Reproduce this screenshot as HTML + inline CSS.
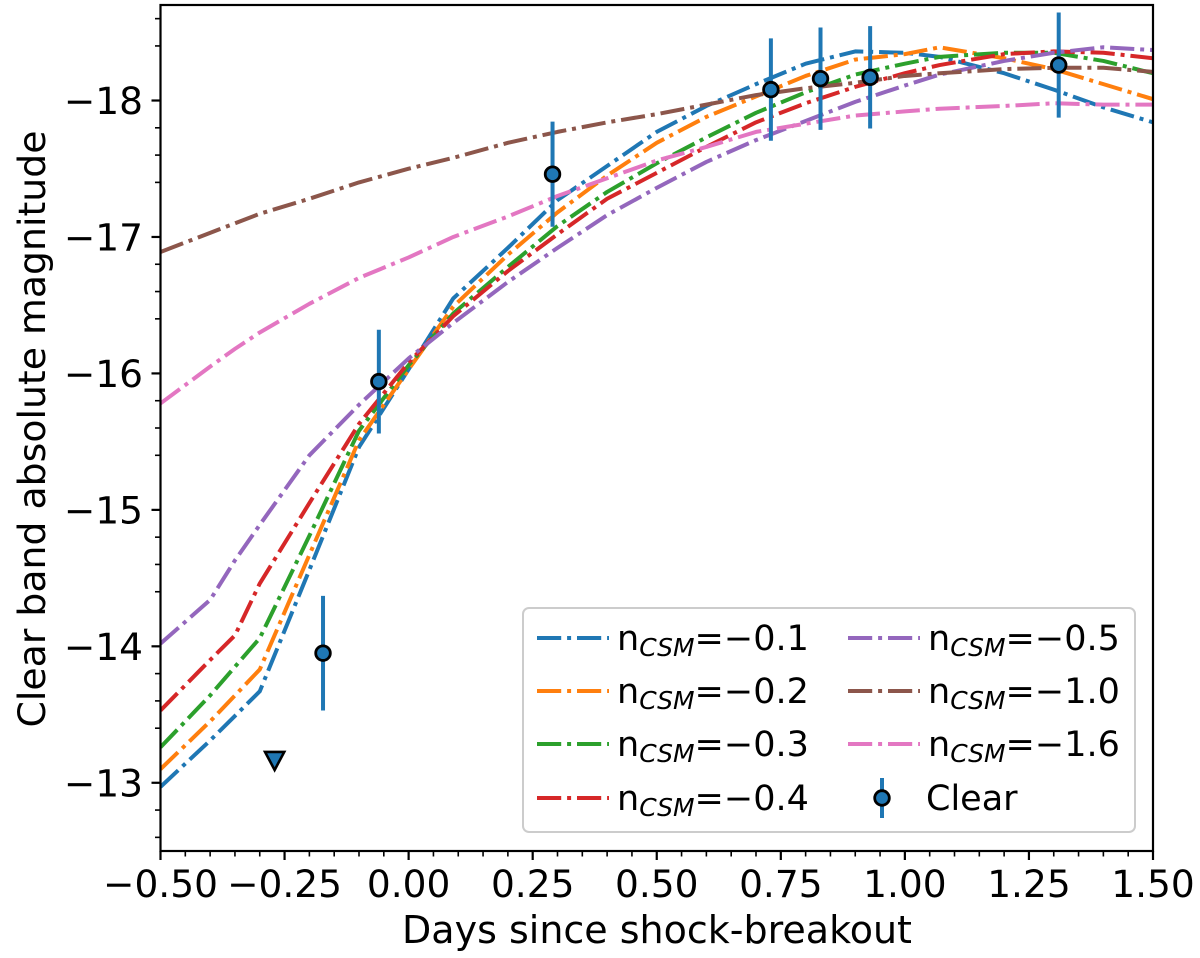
<!DOCTYPE html>
<html lang="en">
<head>
<meta charset="utf-8">
<title>Clear band absolute magnitude vs days since shock-breakout</title>
<style>
html,body{margin:0;padding:0;background:#fff;width:1200px;height:958px;overflow:hidden}
svg{display:block}
text{font-family:"DejaVu Sans","Liberation Sans",sans-serif;fill:#000}
</style>
</head>
<body>
<svg id="chart" xmlns="http://www.w3.org/2000/svg" width="1200" height="958" viewBox="0 0 1200 958">
  <defs><clipPath id="plot-clip"><rect x="160.5" y="5" width="992.5" height="846"/></clipPath></defs>
  <rect x="160.5" y="5" width="992.5" height="846" fill="#fff"/>
  <g id="series" clip-path="url(#plot-clip)"></g>
  <g id="observations" clip-path="url(#plot-clip)"></g>
  <rect x="160.5" y="5" width="992.5" height="846" fill="none" stroke="#000" stroke-width="2.2"/>
  <g id="ticks"></g>
  <text x="657" y="943" font-size="38" text-anchor="middle">Days since shock-breakout</text>
  <text transform="translate(45,429) rotate(-90)" font-size="37.8" text-anchor="middle">Clear band absolute magnitude</text>
  <g id="legend">
    <rect x="523" y="608" width="612" height="224" rx="6" ry="6" fill="#fff" fill-opacity="0.8" stroke="#ccc" stroke-width="2"/>
  </g>
</svg>
<script>
const days = [-0.5,-0.4,-0.35,-0.3,-0.2,-0.1,0,0.09,0.2,0.3,0.4,0.5,0.6,0.7,0.8,0.9,1.0,1.07,1.2,1.3,1.4,1.5];
const seriesLabels = ['−0.1','−0.2','−0.3','−0.4','−0.5','−1.0','−1.6'];
const seriesColors = ['#1f77b4','#ff7f0e','#2ca02c','#d62728','#9467bd','#8c564b','#e377c2'];
const magN01 = [-12.97,-13.31,-13.49,-13.67,-14.56,-15.46,-16.03,-16.55,-16.92,-17.27,-17.52,-17.77,-17.96,-18.12,-18.27,-18.36,-18.35,-18.32,-18.20,-18.08,-17.95,-17.84];
const magN02 = [-13.10,-13.45,-13.64,-13.83,-14.67,-15.51,-16.03,-16.49,-16.87,-17.18,-17.45,-17.69,-17.88,-18.03,-18.18,-18.30,-18.34,-18.39,-18.31,-18.23,-18.12,-18.01];
const magN03 = [-13.26,-13.64,-13.85,-14.06,-14.81,-15.58,-16.06,-16.44,-16.78,-17.08,-17.33,-17.54,-17.73,-17.91,-18.06,-18.19,-18.27,-18.32,-18.35,-18.35,-18.29,-18.20];
const magN04 = [-13.53,-13.90,-14.08,-14.46,-15.05,-15.63,-16.08,-16.42,-16.75,-17.02,-17.28,-17.47,-17.66,-17.84,-17.98,-18.10,-18.20,-18.26,-18.34,-18.36,-18.35,-18.31];
const magN05 = [-14.02,-14.34,-14.63,-14.89,-15.40,-15.77,-16.11,-16.37,-16.67,-16.92,-17.16,-17.36,-17.55,-17.71,-17.85,-17.99,-18.11,-18.19,-18.29,-18.35,-18.39,-18.37];
const magN10 = [-16.89,-17.03,-17.10,-17.17,-17.28,-17.40,-17.50,-17.58,-17.69,-17.77,-17.84,-17.90,-17.97,-18.04,-18.09,-18.13,-18.18,-18.20,-18.23,-18.24,-18.24,-18.21];
const magN16 = [-15.78,-16.05,-16.18,-16.30,-16.51,-16.70,-16.85,-17.00,-17.15,-17.30,-17.43,-17.56,-17.66,-17.77,-17.83,-17.89,-17.92,-17.94,-17.96,-17.98,-17.97,-17.97];
const seriesMags = [magN01,magN02,magN03,magN04,magN05,magN10,magN16];
const obsDays = [-0.1725,-0.06,0.29,0.73,0.83,0.93,1.31];
const obsMags = [-13.95,-15.94,-17.46,-18.08,-18.16,-18.17,-18.26];
const obsErrs = [0.42,0.38,0.385,0.375,0.375,0.375,0.385];
const limitDays = [-0.27];
const limitMags = [-13.16];
const xTickValues = [-0.5,-0.25,0,0.25,0.5,0.75,1,1.25,1.5];
const xTickLabels = ['−0.50','−0.25','0.00','0.25','0.50','0.75','1.00','1.25','1.50'];
const yTickValues = [-18,-17,-16,-15,-14,-13];
const yTickLabels = ['−18','−17','−16','−15','−14','−13'];

const NS = 'http://www.w3.org/2000/svg';
const X_MIN = -0.5, X_MAX = 1.5, Y_TOP = -18.7, Y_BOTTOM = -12.5;
const L = 160.5, R = 1153, T = 5, B = 851;
function xScale(v){ return L + (v - X_MIN) / (X_MAX - X_MIN) * (R - L); }
function yScale(v){ return T + (v - Y_TOP) / (Y_BOTTOM - Y_TOP) * (B - T); }
function make(tag, attrs, parent){
  const el = document.createElementNS(NS, tag);
  for (const k in attrs) el.setAttribute(k, attrs[k]);
  parent.appendChild(el);
  return el;
}
const DASH = '24.2 5.9 4 5.9';
const LW = 4;

// model curves
const seriesGroup = document.getElementById('series');
seriesMags.forEach(function(mags, i){
  const d = mags.map(function(m, j){ return (j ? 'L' : 'M') + xScale(days[j]).toFixed(2) + ' ' + yScale(m).toFixed(2); }).join(' ');
  const line = make('path', {d: d, fill: 'none', stroke: seriesColors[i], 'stroke-width': LW, 'stroke-dasharray': DASH, 'stroke-linejoin': 'round'}, seriesGroup);
  
  
});

// observations
const obsGroup = document.getElementById('observations');
obsDays.forEach(function(x, i){
  const cx = xScale(x), cy = yScale(obsMags[i]);
  const bar = make('line', {x1: cx, x2: cx, y1: yScale(obsMags[i] - obsErrs[i]), y2: yScale(obsMags[i] + obsErrs[i]), stroke: '#1f77b4', 'stroke-width': LW}, obsGroup);
  
  
  const dot = make('circle', {cx: cx, cy: cy, r: 7.3, fill: '#1f77b4', stroke: '#000', 'stroke-width': 2.8}, obsGroup);
  
  
});
limitDays.forEach(function(x, i){
  const cx = xScale(x), cy = yScale(limitMags[i]);
  const tri = make('polygon', {points: (cx-9.6)+','+(cy-9)+' '+(cx+9.6)+','+(cy-9)+' '+cx+','+(cy+9), fill: '#1f77b4', stroke: '#000', 'stroke-width': 2.6, 'stroke-linejoin': 'miter'}, obsGroup);
  
  
});

// ticks
const tickGroup = document.getElementById('ticks');
function xTick(v, len, w){
  const t = make('line', {x1: xScale(v), x2: xScale(v), y1: B, y2: B + len, stroke: '#000', 'stroke-width': w}, tickGroup);
  
  
}
function yTick(v, len, w){
  const t = make('line', {x1: L - len, x2: L, y1: yScale(v), y2: yScale(v), stroke: '#000', 'stroke-width': w}, tickGroup);
  
  
}
for (let k = 0; k <= 40; k++){ if (k % 5) xTick(X_MIN + k * 0.05, 5.5, 1.6); }
for (let k = 0; k <= 30; k++){ if (k % 5 !== 2) yTick(-18.6 + k * 0.2, 5.5, 1.6); }
xTickValues.forEach(function(v, i){
  xTick(v, 9, 2.2);
  const label = make('text', {x: xScale(v), y: 897, 'font-size': 37.5, 'text-anchor': 'middle'}, tickGroup);
  label.textContent = xTickLabels[i];
  
  
});
yTickValues.forEach(function(v, i){
  yTick(v, 9, 2.2);
  const label = make('text', {x: 143, y: yScale(v) + 13.5, 'font-size': 37.5, 'text-anchor': 'end'}, tickGroup);
  label.textContent = yTickLabels[i];
  
  
});

// legend
const legendGroup = document.getElementById('legend');
const legendRows = [638, 691, 744, 798];
const legendCols = [[537, 617], [848, 928]];
seriesLabels.forEach(function(lab, i){
  const col = i < 4 ? 0 : 1;
  const row = i < 4 ? i : i - 4;
  const y = legendRows[row];
  const h = make('line', {x1: legendCols[col][0], x2: legendCols[col][0] + 72, y1: y, y2: y, stroke: seriesColors[i], 'stroke-width': LW, 'stroke-dasharray': DASH}, legendGroup);
  
  
  const t = make('text', {x: legendCols[col][1], y: y + 12, 'font-size': 35}, legendGroup);
  
  
  const a = make('tspan', {}, t);
  a.textContent = 'n';
  const b = make('tspan', {'font-size': 25, 'font-style': 'italic', dy: 6}, t);
  b.textContent = 'CSM';
  const c = make('tspan', {dy: -6}, t);
  c.textContent = '=' + lab;
});
const clearY = legendRows[3];
const clearBar = make('line', {x1: 882, x2: 882, y1: clearY - 20, y2: clearY + 20, stroke: '#1f77b4', 'stroke-width': LW}, legendGroup);


const clearDot = make('circle', {cx: 882, cy: clearY, r: 7.3, fill: '#1f77b4', stroke: '#000', 'stroke-width': 2.8}, legendGroup);


const clearText = make('text', {x: 926, y: clearY + 12, 'font-size': 35}, legendGroup);
clearText.textContent = 'Clear';


</script>
</body>
</html>
